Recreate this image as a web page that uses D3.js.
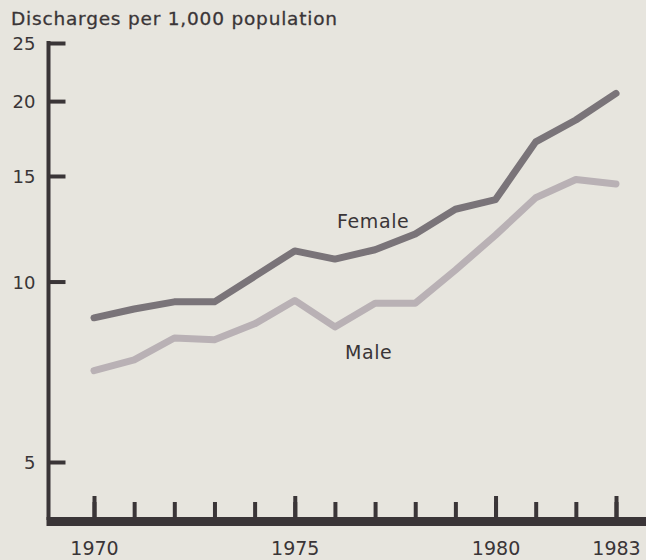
<!DOCTYPE html>
<html>
<head>
<meta charset="utf-8">
<script src="https://cdn.jsdelivr.net/npm/d3@7"></script>
<style>
  body { margin: 0; background: #e7e5de; }
  svg { display: block; }
  text { font-family: "DejaVu Sans", sans-serif; fill: #3a3537; }
</style>
</head>
<body>
<div id="chart"></div>
<script>
// Hospital discharges per 1,000 population, log scale
var years = [1970, 1971, 1972, 1973, 1974, 1975, 1976, 1977, 1978, 1979, 1980, 1981, 1982, 1983];
var female = [8.7, 9.0, 9.25, 9.25, 10.2, 11.25, 10.9, 11.3, 12.0, 13.2, 13.7, 17.1, 18.6, 20.6];
var male = [7.1, 7.4, 8.05, 8.0, 8.5, 9.3, 8.4, 9.2, 9.2, 10.45, 11.95, 13.8, 14.8, 14.55];
var yTicks = [5, 10, 15, 20, 25];
var yearLabels = [1970, 1975, 1980, 1983];

var w = 646, h = 560;
var ink = "#3a3537";

var svg = d3.select("#chart").append("svg")
	.attr("width", w)
	.attr("height", h);

var x = d3.scaleLinear().domain([1970, 1983]).range([94, 616]);
var y = d3.scaleLog().domain([5, 25]).range([462, 43]);

// title
svg.append("text")
	.attr("x", 11)
	.attr("y", 25)
	.attr("font-size", "18.5px")
	.attr("letter-spacing", "0.8px")
	.attr("stroke", ink)
	.attr("stroke-width", 0.3)
	.text("Discharges per 1,000 population");

// y axis
var yAxis = svg.append("g")
	.attr("transform", "translate(48.5,0)")
	.call(d3.axisLeft(y).tickValues(yTicks).tickFormat(d3.format("d"))
		.tickSizeInner(-17).tickSizeOuter(0).tickPadding(13));
yAxis.select(".domain").remove();
yAxis.selectAll(".tick line").attr("stroke", ink).attr("stroke-width", 4);
yAxis.selectAll(".tick text")
	.attr("font-size", "18px")
	.attr("font-family", "DejaVu Sans, sans-serif")
	.attr("fill", ink)
	.attr("dy", "0.36em");
svg.append("line")
	.attr("x1", 48.5).attr("x2", 48.5)
	.attr("y1", y(25) - 2).attr("y2", 520)
	.attr("stroke", ink).attr("stroke-width", 4);

// x axis: short ticks for every year, long ticks + labels for some
var xBase = 517;
var xMinor = svg.append("g")
	.attr("transform", "translate(0," + xBase + ")")
	.call(d3.axisBottom(x).tickValues(years).tickFormat("").tickSizeInner(-15).tickSizeOuter(0));
xMinor.select(".domain").remove();
xMinor.selectAll(".tick line").attr("stroke", ink).attr("stroke-width", 4);

var xMajor = svg.append("g")
	.attr("transform", "translate(0," + xBase + ")")
	.call(d3.axisBottom(x).tickValues(yearLabels).tickFormat(d3.format("d"))
		.tickSizeInner(-21).tickSizeOuter(0).tickPadding(0));
xMajor.select(".domain").remove();
xMajor.selectAll(".tick line").attr("stroke", ink).attr("stroke-width", 4);
xMajor.selectAll(".tick text")
	.attr("font-size", "19px")
	.attr("font-family", "DejaVu Sans, sans-serif")
	.attr("fill", ink)
	.attr("dy", null)
	.attr("y", 38);

svg.append("rect")
	.attr("x", 46.5).attr("y", xBase)
	.attr("width", w - 46.5).attr("height", 9)
	.attr("fill", ink);

// lines
var line = function(vals) {
	return d3.line()
		.x(function(d, i) { return x(years[i]); })
		.y(function(d) { return y(d); })(vals);
};

svg.append("path")
	.attr("d", line(male))
	.attr("fill", "none")
	.attr("stroke", "#b9b1b5")
	.attr("stroke-width", 7)
	.attr("stroke-linejoin", "round")
	.attr("stroke-linecap", "round");

svg.append("path")
	.attr("d", line(female))
	.attr("fill", "none")
	.attr("stroke", "#7a7479")
	.attr("stroke-width", 7)
	.attr("stroke-linejoin", "round")
	.attr("stroke-linecap", "round");

// series labels
svg.append("text")
	.attr("x", 337).attr("y", 228)
	.attr("font-size", "19px")
	.attr("letter-spacing", "0.6px")
	.text("Female");
svg.append("text")
	.attr("x", 345).attr("y", 359)
	.attr("font-size", "19px")
	.attr("letter-spacing", "0.6px")
	.text("Male");
</script>
</body>
</html>
